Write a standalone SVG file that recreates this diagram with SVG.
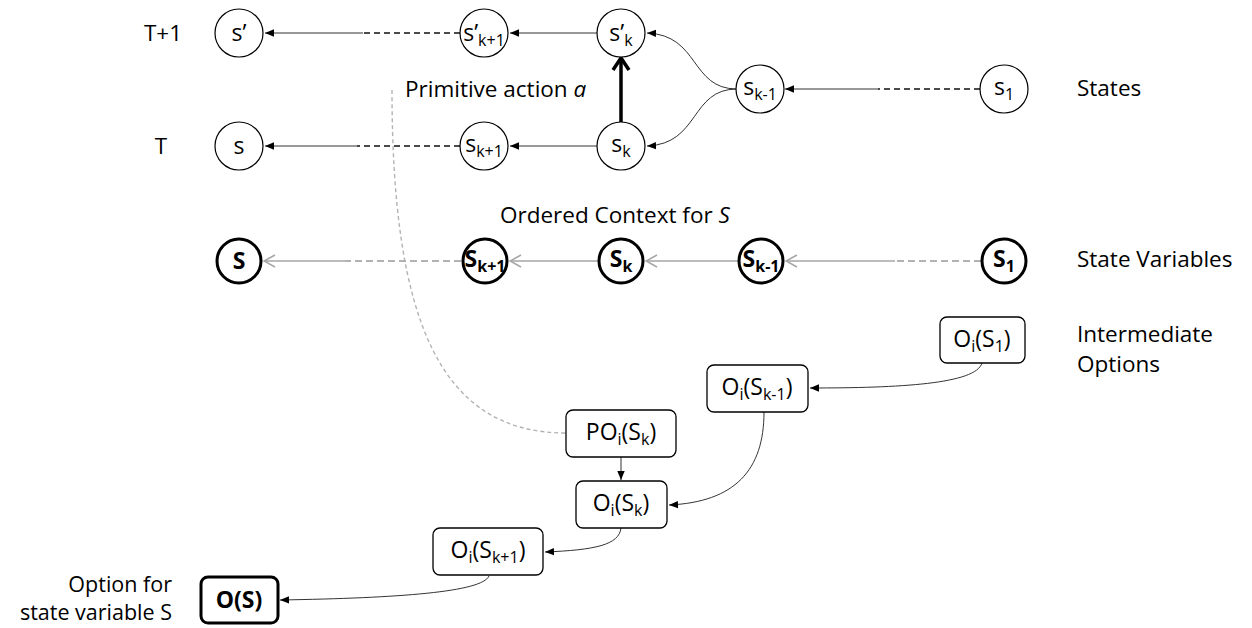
<svg xmlns="http://www.w3.org/2000/svg" width="1252" height="628" viewBox="0 0 1252 628">
  <style>
    text { font-family: "Open Sans", "Liberation Sans", Arial, sans-serif; fill: #000; }
    .lbl { font-size: 22.5px; }
    .small { font-size: 21.5px; }
    .t { font-size: 23px; text-anchor: middle; }
    .sub { font-size: 16px; }
    .st circle { fill: #fff; stroke: #000; stroke-width: 1.2; }
    .sv circle { fill: #fff; stroke: #000; stroke-width: 3; }
    .sv text { font-weight: bold; }
    .opt rect { fill: #fff; stroke: #000; stroke-width: 1.3; }
    .main rect { stroke-width: 3; }
    .main text { font-weight: bold; }
    .c { fill: none; stroke: #333; stroke-width: 1; }
    .cd { stroke: #111; stroke-width: 1.5; stroke-dasharray: 6 4; }
    .g { fill: none; stroke: #a6a6a6; stroke-width: 1.5; }
    .gd { stroke: #999; stroke-dasharray: 7 4; }
    .trace { fill: none; stroke: #b3b3b3; stroke-width: 1.4; stroke-dasharray: 4 3; }
  </style>
  <defs>
    <marker id="ah" markerUnits="userSpaceOnUse" markerWidth="10" markerHeight="9" refX="9" refY="4.5" orient="auto">
      <path d="M0,0.8 L9,4.5 L0,8.2 z" fill="#000"/>
    </marker>
    <marker id="ahGray" markerUnits="userSpaceOnUse" markerWidth="13" markerHeight="14" refX="12" refY="7" orient="auto">
      <path d="M1,1 L12,7 L1,13" fill="none" stroke="#a6a6a6" stroke-width="1.5"/>
    </marker>
    <marker id="ahBold" markerUnits="userSpaceOnUse" markerWidth="20" markerHeight="20" refX="16" refY="10" orient="auto">
      <path d="M4,2 L16,10 L4,18" fill="none" stroke="#000" stroke-width="3.5"/>
    </marker>
  </defs>

  <!-- row labels -->
  <g id="labels">
    <text class="lbl" x="163" y="41" text-anchor="middle">T+1</text>
    <text class="lbl" x="161" y="154" text-anchor="middle">T</text>
    <text class="lbl" x="1077" y="96">States</text>
    <text class="lbl" x="1077" y="267">State Variables</text>
    <text class="lbl" x="1077" y="342">Intermediate</text>
    <text class="lbl" x="1077" y="372">Options</text>
    <text class="lbl" x="405" y="97">Primitive action <tspan font-style="italic">a</tspan></text>
    <text class="lbl" x="500" y="223">Ordered Context for <tspan font-style="italic">S</tspan></text>
    <text class="small" x="172" y="592" text-anchor="end">Option for</text>
    <text class="small" x="172" y="620" text-anchor="end">state variable S</text>
  </g>

  <!-- connectors -->
  <g id="connectors">
    <!-- time T+1 -->
    <path class="c" d="M597,33 L510,33" marker-end="url(#ah)"/>
    <path class="c cd" d="M460,33 L363,33"/>
    <path class="c" d="M363,33 L265,33" marker-end="url(#ah)"/>
    <!-- time T -->
    <path class="c" d="M597,146 L510,146" marker-end="url(#ah)"/>
    <path class="c cd" d="M460,146 L357,146"/>
    <path class="c" d="M357,146 L265,146" marker-end="url(#ah)"/>
    <!-- from s1 to s(k-1) -->
    <path class="c cd" d="M980,89 L878,89"/>
    <path class="c" d="M878,89 L785,89" marker-end="url(#ah)"/>
    <!-- s(k-1) feeds both s'k and sk -->
    <path class="c" d="M737,89 C690,89 700,35 647,33" marker-end="url(#ah)"/>
    <path class="c" d="M737,89 C690,89 700,144 647,146" marker-end="url(#ah)"/>
    <!-- primitive action -->
    <path d="M621,122 L621,58" fill="none" stroke="#000" stroke-width="3.5" marker-end="url(#ahBold)"/>

    <!-- state variable chain -->
    <path class="g gd" d="M981,261 L895,261"/>
    <path class="g" d="M895,261 L786,261" marker-end="url(#ahGray)"/>
    <path class="g" d="M738,261 L646,261" marker-end="url(#ahGray)"/>
    <path class="g" d="M598,261 L510,261" marker-end="url(#ahGray)"/>
    <path class="g gd" d="M461,261 L345,261"/>
    <path class="g" d="M345,261 L264,261" marker-end="url(#ahGray)"/>

    <!-- link from primitive action to primitive option -->
    <path class="trace" d="M392,90 C392,320 440,433 566,433"/>

    <!-- option chain -->
    <path class="c" d="M982,363 C976,384 900,388 810,388" marker-end="url(#ah)"/>
    <path class="c" d="M764,412 C764,470 735,502 669,505" marker-end="url(#ah)"/>
    <path class="c" d="M621,457 L621,480" marker-end="url(#ah)"/>
    <path class="c" d="M621,528 C619,545 595,550 545,552" marker-end="url(#ah)"/>
    <path class="c" d="M489,576 C482,592 400,598 280,600" marker-end="url(#ah)"/>
  </g>

  <!-- states at T+1 -->
  <g id="s-prime" class="st">
    <circle cx="239" cy="33" r="24"/>
    <text class="t" x="239" y="41">s’</text>
  </g>
  <g id="s-prime-k1" class="st">
    <circle cx="484" cy="33" r="24"/>
    <text class="t" x="484" y="41">s’<tspan class="sub" dy="5">k+1</tspan></text>
  </g>
  <g id="s-prime-k" class="st">
    <circle cx="621" cy="33" r="24"/>
    <text class="t" x="621" y="41">s’<tspan class="sub" dy="5">k</tspan></text>
  </g>

  <!-- states at T -->
  <g id="s" class="st">
    <circle cx="239" cy="146" r="24"/>
    <text class="t" x="239" y="154">s</text>
  </g>
  <g id="s-k1" class="st">
    <circle cx="484" cy="146" r="24"/>
    <text class="t" x="484" y="152">s<tspan class="sub" dy="5">k+1</tspan></text>
  </g>
  <g id="s-k" class="st">
    <circle cx="621" cy="146" r="24"/>
    <text class="t" x="621" y="152">s<tspan class="sub" dy="5">k</tspan></text>
  </g>
  <g id="s-km1" class="st">
    <circle cx="760" cy="89" r="24"/>
    <text class="t" x="760" y="95">s<tspan class="sub" dy="5">k-1</tspan></text>
  </g>
  <g id="s-1" class="st">
    <circle cx="1004" cy="89" r="24"/>
    <text class="t" x="1004" y="95">s<tspan class="sub" dy="5">1</tspan></text>
  </g>

  <!-- state variables -->
  <g id="S" class="sv">
    <circle cx="239" cy="261" r="22"/>
    <text class="t" x="239" y="269">S</text>
  </g>
  <g id="S-k1" class="sv">
    <circle cx="485" cy="261" r="22"/>
    <text class="t" x="485" y="267">S<tspan class="sub" dy="5">k+1</tspan></text>
  </g>
  <g id="S-k" class="sv">
    <circle cx="621" cy="261" r="22"/>
    <text class="t" x="621" y="267">S<tspan class="sub" dy="5">k</tspan></text>
  </g>
  <g id="S-km1" class="sv">
    <circle cx="761" cy="261" r="22"/>
    <text class="t" x="761" y="267">S<tspan class="sub" dy="5">k-1</tspan></text>
  </g>
  <g id="S-1" class="sv">
    <circle cx="1004" cy="261" r="22"/>
    <text class="t" x="1004" y="267">S<tspan class="sub" dy="5">1</tspan></text>
  </g>

  <!-- options -->
  <g id="O-S1" class="opt">
    <rect x="940" y="317" width="85" height="46" rx="7"/>
    <text class="t" x="982" y="347">O<tspan class="sub" dy="5">i</tspan><tspan dy="-5">(S</tspan><tspan class="sub" dy="5">1</tspan><tspan dy="-5">)</tspan></text>
  </g>
  <g id="O-Skm1" class="opt">
    <rect x="707" y="365" width="101" height="47" rx="7"/>
    <text class="t" x="757" y="395">O<tspan class="sub" dy="5">i</tspan><tspan dy="-5">(S</tspan><tspan class="sub" dy="5">k-1</tspan><tspan dy="-5">)</tspan></text>
  </g>
  <g id="PO-Sk" class="opt">
    <rect x="566" y="410" width="110" height="47" rx="7"/>
    <text class="t" x="621" y="440">PO<tspan class="sub" dy="5">i</tspan><tspan dy="-5">(S</tspan><tspan class="sub" dy="5">k</tspan><tspan dy="-5">)</tspan></text>
  </g>
  <g id="O-Sk" class="opt">
    <rect x="576" y="481" width="91" height="47" rx="7"/>
    <text class="t" x="621" y="511">O<tspan class="sub" dy="5">i</tspan><tspan dy="-5">(S</tspan><tspan class="sub" dy="5">k</tspan><tspan dy="-5">)</tspan></text>
  </g>
  <g id="O-Sk1" class="opt">
    <rect x="433" y="528" width="110" height="47" rx="7"/>
    <text class="t" x="488" y="558">O<tspan class="sub" dy="5">i</tspan><tspan dy="-5">(S</tspan><tspan class="sub" dy="5">k+1</tspan><tspan dy="-5">)</tspan></text>
  </g>
  <g id="O-S" class="opt main">
    <rect x="201" y="577" width="77" height="46" rx="7"/>
    <text class="t" x="239" y="608">O(S)</text>
  </g>
</svg>
